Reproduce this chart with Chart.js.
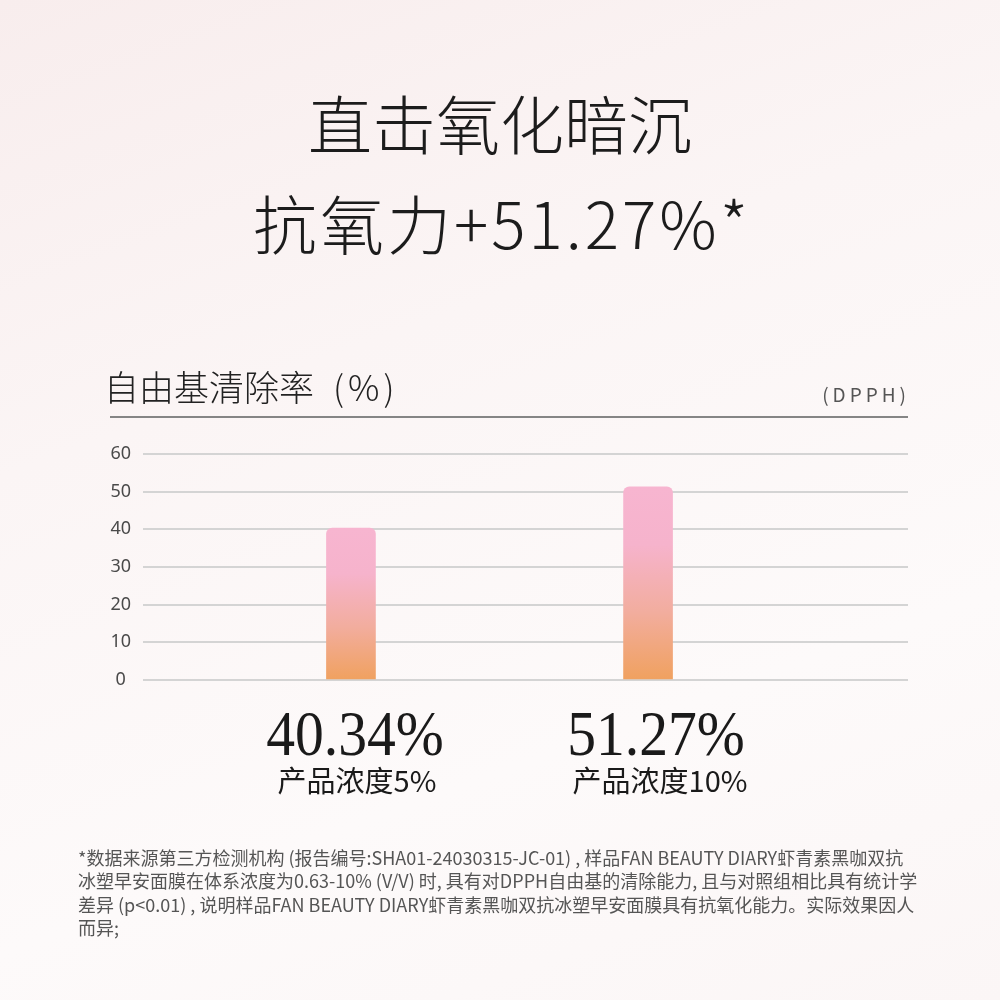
<!DOCTYPE html>
<html>
<head>
<meta charset="utf-8">
<script src="https://cdn.jsdelivr.net/npm/chart.js@4.4.1/dist/chart.umd.min.js"></script>
<style>
  html, body { margin: 0; padding: 0; }
  body {
    width: 1000px; height: 1000px; overflow: hidden;
    background: linear-gradient(160deg, #f8eded 0%, #fbf5f5 35%, #fdfafa 70%, #fbf6f6 100%);
  }
  #wrap { position: relative; width: 1000px; height: 1000px; }
</style>
</head>
<body>
<div id="wrap"><canvas id="chart" width="1000" height="1000"></canvas></div>
<script>
// données
const categories = ['产品浓度5%', '产品浓度10%'];
const values = [40.34, 51.27];
const valueLabels = ['40.34%', '51.27%'];
const yTicks = [0, 10, 20, 30, 40, 50, 60];

const titleLines = ['直击氧化暗沉', '抗氧力+51.27%*'];
const subtitle = '自由基清除率';
const subtitleUnit = '(%)';
const unitNote = '(DPPH)';
const notes = [
  '*数据来源第三方检测机构 (报告编号:SHA01-24030315-JC-01) , 样品FAN BEAUTY DIARY虾青素黑咖双抗',
  '冰塑早安面膜在体系浓度为0.63-10% (V/V) 时, 具有对DPPH自由基的清除能力, 且与对照组相比具有统计学',
  '差异 (p<0.01) , 说明样品FAN BEAUTY DIARY虾青素黑咖双抗冰塑早安面膜具有抗氧化能力。实际效果因人',
  '而异;'
];

const CJK = '"Noto Sans CJK SC", "Noto Sans", sans-serif';

// dégradé rose -> orange, calculé pour chaque barre
function barGradient(context) {
  const chart = context.chart;
  const {ctx, chartArea, scales} = chart;
  if (!chartArea || context.type !== 'data') return '#f4b0b8';
  const top = scales.y.getPixelForValue(context.raw.y);
  const bottom = scales.y.getPixelForValue(0);
  const g = ctx.createLinearGradient(0, top, 0, bottom);
  g.addColorStop(0, '#f7b5d0');
  g.addColorStop(0.3, '#f6b3cc');
  g.addColorStop(0.65, '#f2ad9e');
  g.addColorStop(1, '#f0a15f');
  return g;
}

// textes autour du graphique
const decorPlugin = {
  id: 'decor',
  beforeDraw(chart) {
    const c = chart.ctx;
    c.save();
    c.fillStyle = '#1c1c1c';
    c.textAlign = 'center';
    c.textBaseline = 'middle';
    c.font = '300 64px ' + CJK;
    c.fillText(titleLines[0], 500, 125);
    c.letterSpacing = '3px';
    c.fillText(titleLines[1], 502, 225);
    c.letterSpacing = '0px';

    c.textAlign = 'left';
    c.font = '300 35px ' + CJK;
    c.fillStyle = '#222';
    c.fillText(subtitle, 104, 388);
    c.letterSpacing = '4px';
    c.fillText(subtitleUnit, 333, 388);
    c.letterSpacing = '0px';

    c.textAlign = 'right';
    c.font = '19px ' + CJK;
    c.fillStyle = '#555';
    c.letterSpacing = '4px';
    c.fillText(unitNote, 910, 395);
    c.letterSpacing = '0px';

    c.strokeStyle = '#858585';
    c.lineWidth = 2;
    c.beginPath();
    c.moveTo(110, 417);
    c.lineTo(908, 417);
    c.stroke();

    c.textAlign = 'left';
    c.font = '18px ' + CJK;
    c.fillStyle = '#555';
    notes.forEach((line, i) => {
      c.fillText(line, 78, 858 + i * 23.5, 848);
    });
    c.restore();
  },
  afterDatasetsDraw(chart) {
    const c = chart.ctx;
    const xs = chart.scales.x;
    c.save();
    c.textAlign = 'center';
    c.fillStyle = '#1a1a1a';
    categories.forEach((cat, i) => {
      const x = xs.getPixelForValue(i + 1);
      // chiffres un peu plus étroits que la police serif
      c.save();
      c.translate(x + 4 + i * 4, 755);
      c.scale(0.9, 1);
      c.textBaseline = 'alphabetic';
      c.font = '64px "Liberation Serif", "DejaVu Serif", serif';
      c.fillText(valueLabels[i], 0, 0);
      c.restore();
      c.textBaseline = 'middle';
      c.font = '29px ' + CJK;
      c.fillText(cat, x + 6 + i * 6, 781);
    });
    c.restore();
  }
};

const ctx = document.getElementById('chart');

new Chart(ctx, {
  type: 'bar',
  data: {
    datasets: [{
      data: values.map((v, i) => ({x: i + 1, y: v})),
      backgroundColor: barGradient,
      barThickness: 49,
      borderRadius: {topLeft: 6, topRight: 6, bottomLeft: 0, bottomRight: 0},
      borderSkipped: 'start'
    }]
  },
  options: {
    responsive: false,
    devicePixelRatio: 1,
    animation: false,
    layout: {padding: {left: 100, right: 92, top: 454, bottom: 320}},
    scales: {
      x: {
        type: 'linear',
        display: false,
        offset: false,
        min: 0.3,
        max: 2.875
      },
      y: {
        min: 0,
        max: 60,
        afterBuildTicks: scale => { scale.ticks = yTicks.map(v => ({value: v})); },
        afterFit: scale => { scale.width = 43; },
        border: {display: false},
        grid: {color: '#d4d4d4', lineWidth: 2, drawTicks: false},
        ticks: {
          crossAlign: 'center',
          padding: 12,
          color: '#4a4a4a',
          font: {family: 'Noto Sans', size: 18}
        }
      }
    },
    plugins: {
      legend: {display: false},
      tooltip: {enabled: false}
    }
  },
  plugins: [decorPlugin]
});
</script>
</body>
</html>
